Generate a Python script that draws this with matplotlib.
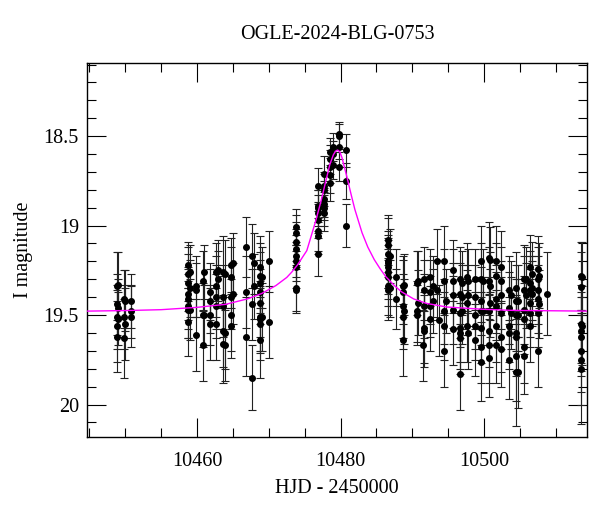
import matplotlib
matplotlib.use("Agg")
import matplotlib.pyplot as plt
import numpy as np
from matplotlib.ticker import MultipleLocator

plt.rcParams['font.family'] = ['Liberation Serif', 'DejaVu Serif']

title = "OGLE-2024-BLG-0753"

# observations: epoch (HJD-2450000), I mag, error
hjd = [
    10448.8, 10448.8, 10448.8, 10448.8, 10448.8,
    10448.95, 10448.95, 10448.95,
    10449.75, 10449.75, 10449.75,
    10449.9, 10449.9,
    10450.8, 10450.8, 10450.8,
    10458.72, 10458.72, 10458.72, 10458.72, 10458.72, 10458.72, 10458.72, 10458.72,
    10459.0, 10459.0, 10459.0,
    10459.8, 10459.8, 10459.8,
    10460.77, 10460.77, 10460.77,
    10460.95, 10460.95,
    10461.8, 10461.8, 10461.8, 10461.8,
    10462.71, 10462.71, 10462.71, 10462.71, 10462.71,
    10462.99, 10462.99,
    10463.64, 10463.64, 10463.64, 10463.64, 10463.64,
    10463.92, 10463.92, 10463.92,
    10464.76, 10464.76, 10464.76, 10464.76, 10464.76,
    10465.03, 10465.03,
    10466.89, 10466.89, 10466.89,
    10467.68, 10467.68, 10467.68,
    10467.9, 10467.9,
    10468.73, 10468.73, 10468.73, 10468.73, 10468.73, 10468.73, 10468.73, 10468.73, 10468.73,
    10469.07, 10469.07,
    10469.99, 10469.99,
    10473.84, 10473.84, 10473.84, 10473.84, 10473.84, 10473.84, 10473.84, 10473.84, 10473.84,
    10476.8, 10476.8, 10476.8, 10476.8, 10476.8, 10476.8, 10476.8, 10476.8,
    10477.68, 10477.68, 10477.68, 10477.68, 10477.68, 10477.68, 10477.68,
    10478.57, 10478.57, 10478.57, 10478.57, 10478.57,
    10478.9, 10478.9, 10478.9,
    10479.72, 10479.72, 10479.72, 10479.72,
    10480.72, 10480.72, 10480.72,
    10486.68, 10486.68, 10486.68, 10486.68, 10486.68, 10486.68, 10486.68, 10486.68, 10486.68, 10486.68,
    10486.91, 10486.91,
    10487.75, 10487.75,
    10488.68, 10488.68, 10488.68, 10488.68, 10488.68,
    10488.86, 10488.86,
    10490.6, 10490.6, 10490.6,
    10490.74, 10490.74,
    10491.46,
    10491.64, 10491.64, 10491.64, 10491.64, 10491.64,
    10492.48, 10492.48, 10492.48, 10492.48,
    10492.85, 10492.85,
    10493.49, 10493.49,
    10493.73,
    10494.47, 10494.47, 10494.47, 10494.47, 10494.47,
    10494.7,
    10495.72, 10495.72, 10495.72, 10495.72, 10495.72,
    10496.65, 10496.65, 10496.65, 10496.65, 10496.65, 10496.65, 10496.65,
    10496.88, 10496.88, 10496.88,
    10497.58, 10497.58, 10497.58,
    10497.8, 10497.8, 10497.8,
    10498.73, 10498.73, 10498.73, 10498.73, 10498.73,
    10499.53, 10499.53, 10499.53, 10499.53, 10499.53, 10499.53, 10499.53,
    10499.8, 10499.8,
    10500.72, 10500.72, 10500.72, 10500.72, 10500.72, 10500.72,
    10500.9, 10500.9, 10500.9,
    10501.66, 10501.66, 10501.66, 10501.66, 10501.66, 10501.66,
    10502.44, 10502.44, 10502.44, 10502.44, 10502.44, 10502.44,
    10503.5, 10503.5, 10503.5, 10503.5, 10503.5,
    10503.7, 10503.7,
    10504.53, 10504.53, 10504.53, 10504.53, 10504.53, 10504.53, 10504.53,
    10504.8, 10504.8, 10504.8,
    10505.55, 10505.55, 10505.55, 10505.55, 10505.55, 10505.55,
    10505.8, 10505.8,
    10506.48, 10506.48, 10506.48, 10506.48, 10506.48, 10506.48,
    10506.75, 10506.75, 10506.75,
    10507.54, 10507.54, 10507.54, 10507.54, 10507.54, 10507.54,
    10507.7, 10507.7,
    10508.79,
    10513.57, 10513.57, 10513.57, 10513.57, 10513.57, 10513.57, 10513.57, 10513.57,
    10513.7, 10513.7,
]
mag = [
    19.34, 19.44, 19.51, 19.56, 19.62,
    19.33, 19.46, 19.52,
    19.41, 19.51, 19.63,
    19.42, 19.55,
    19.42, 19.48, 19.51,
    19.22, 19.27, 19.32, 19.38, 19.41, 19.45, 19.47, 19.54,
    19.26, 19.35, 19.47,
    19.34, 19.36, 19.61,
    19.31, 19.50, 19.67,
    19.26, 19.50,
    19.37, 19.42, 19.50, 19.55,
    19.26, 19.34, 19.40, 19.45, 19.55,
    19.25, 19.30,
    19.26, 19.40, 19.45, 19.59, 19.66,
    19.27, 19.60, 19.67,
    19.22, 19.29, 19.40, 19.50, 19.56,
    19.21, 19.38,
    19.12, 19.37, 19.62,
    19.17, 19.44, 19.85,
    19.21, 19.34,
    19.23, 19.28, 19.32, 19.37, 19.43, 19.51, 19.52, 19.55, 19.64,
    19.29, 19.51,
    19.20, 19.54,
    19.01, 19.04, 19.09, 19.13, 19.17, 19.20, 19.23, 19.35, 19.36,
    18.78, 18.89, 18.90, 18.93, 18.97, 19.03, 19.06, 19.16,
    18.71, 18.78, 18.80, 18.85, 18.88, 18.90, 18.93,
    18.59, 18.63, 18.67, 18.72, 18.76,
    18.56, 18.60, 18.66,
    18.49, 18.50, 18.56, 18.67,
    18.58, 18.75, 19.00,
    19.08, 19.11, 19.16, 19.20, 19.21, 19.23, 19.26, 19.29, 19.34, 19.36,
    19.17, 19.35,
    19.29, 19.41,
    19.34, 19.37, 19.45, 19.51, 19.64,
    19.33, 19.48,
    19.32, 19.48, 19.50,
    19.31, 19.43,
    19.67,
    19.30, 19.36, 19.45, 19.57, 19.59,
    19.29, 19.37, 19.45, 19.52,
    19.34, 19.42,
    19.20, 19.36,
    19.53,
    19.20, 19.31, 19.48, 19.56, 19.70,
    19.42,
    19.25, 19.31, 19.39, 19.47, 19.58,
    19.30, 19.38, 19.49, 19.57, 19.60, 19.63, 19.83,
    19.32, 19.40, 19.48,
    19.29, 19.43, 19.56,
    19.31, 19.39, 19.60,
    19.30, 19.40, 19.50, 19.56, 19.64,
    19.20, 19.30, 19.42, 19.48, 19.57, 19.68, 19.76,
    19.31, 19.48,
    19.18, 19.31, 19.48, 19.59, 19.67, 19.74,
    19.19, 19.34, 19.43,
    19.20, 19.28, 19.41, 19.45, 19.56, 19.67,
    19.23, 19.31, 19.39, 19.49, 19.62, 19.69,
    19.36, 19.46, 19.56, 19.60, 19.75,
    19.39, 19.49,
    19.35, 19.42, 19.50, 19.60, 19.62, 19.73, 19.82,
    19.42, 19.50, 19.82,
    19.30, 19.36, 19.47, 19.52, 19.68, 19.73,
    19.30, 19.39,
    19.23, 19.32, 19.36, 19.43, 19.49, 19.56,
    19.27, 19.35, 19.38,
    19.24, 19.30, 19.36, 19.41, 19.49, 19.70,
    19.28, 19.44,
    19.38,
    19.28, 19.345, 19.55, 19.59, 19.62, 19.70, 19.75, 19.80,
    19.29, 19.56,
]
err = [
    0.19, 0.17, 0.18, 0.20, 0.20,
    0.18, 0.16, 0.15,
    0.16, 0.18, 0.22,
    0.17, 0.20,
    0.15, 0.15, 0.17,
    0.13, 0.15, 0.16, 0.15, 0.17, 0.18, 0.16, 0.19,
    0.15, 0.16, 0.17,
    0.17, 0.15, 0.20,
    0.17, 0.18, 0.20,
    0.15, 0.17,
    0.16, 0.18, 0.17, 0.20,
    0.16, 0.17, 0.18, 0.18, 0.20,
    0.17, 0.16,
    0.20, 0.18, 0.17, 0.20, 0.22,
    0.19, 0.20, 0.20,
    0.15, 0.17, 0.18, 0.20, 0.18,
    0.17, 0.17,
    0.17, 0.20, 0.22,
    0.18, 0.20, 0.18,
    0.17, 0.18,
    0.17, 0.18, 0.17, 0.18, 0.19, 0.20, 0.18, 0.20, 0.21,
    0.17, 0.19,
    0.17, 0.20,
    0.10, 0.10, 0.11, 0.11, 0.12, 0.11, 0.12, 0.13, 0.13,
    0.10, 0.09, 0.10, 0.10, 0.10, 0.11, 0.10, 0.12,
    0.10, 0.08, 0.09, 0.10, 0.09, 0.10, 0.10,
    0.08, 0.08, 0.09, 0.10, 0.10,
    0.08, 0.07, 0.08,
    0.07, 0.07, 0.07, 0.08,
    0.09, 0.10, 0.12,
    0.14, 0.15, 0.13, 0.15, 0.14, 0.15, 0.15, 0.16, 0.16, 0.17,
    0.15, 0.16,
    0.16, 0.17,
    0.17, 0.18, 0.18, 0.18, 0.20,
    0.17, 0.18,
    0.18, 0.17, 0.17,
    0.17, 0.18,
    0.20,
    0.18, 0.17, 0.18, 0.20, 0.20,
    0.16, 0.18, 0.17, 0.18,
    0.17, 0.18,
    0.18, 0.17,
    0.20,
    0.20, 0.18, 0.18, 0.19, 0.20,
    0.18,
    0.17, 0.18, 0.18, 0.19, 0.20,
    0.18, 0.17, 0.19, 0.19, 0.20, 0.20, 0.20,
    0.18, 0.18, 0.18,
    0.19, 0.18, 0.20,
    0.18, 0.17, 0.20,
    0.17, 0.18, 0.19, 0.19, 0.20,
    0.20, 0.20, 0.19, 0.19, 0.20, 0.20, 0.22,
    0.18, 0.19,
    0.20, 0.19, 0.19, 0.20, 0.21, 0.22,
    0.18, 0.19, 0.19,
    0.20, 0.18, 0.19, 0.19, 0.20, 0.21,
    0.20, 0.19, 0.19, 0.20, 0.20, 0.21,
    0.19, 0.20, 0.20, 0.20, 0.22,
    0.19, 0.20,
    0.20, 0.20, 0.20, 0.21, 0.22, 0.25, 0.30,
    0.20, 0.20, 0.20,
    0.19, 0.19, 0.19, 0.20, 0.20, 0.21,
    0.18, 0.18,
    0.18, 0.18, 0.19, 0.19, 0.19, 0.20,
    0.18, 0.18, 0.18,
    0.18, 0.18, 0.19, 0.19, 0.19, 0.20,
    0.18, 0.19,
    0.23,
    0.19, 0.20, 0.22, 0.22, 0.22, 0.23, 0.25, 0.31,
    0.20, 0.22,
]

# model curve
model_t = [10444.7, 10450, 10455, 10460, 10464, 10467, 10469, 10471, 10472.5,
           10473.2, 10474, 10475.3, 10475.9, 10476.5, 10477.3, 10477.9, 10478.5,
           10479.0, 10479.3, 10479.6, 10479.9, 10480.2, 10480.9, 10481.5, 10482.0,
           10483.0, 10483.8, 10484.7, 10485.5, 10486.3, 10487.5, 10488.5, 10490.2,
           10492, 10494.8, 10500, 10504, 10514.4]
model_mag = [19.478, 19.475, 19.47, 19.457, 19.44, 19.41, 19.38, 19.335, 19.29,
             19.26, 19.22, 19.14, 19.06, 18.98, 18.86, 18.76, 18.66,
             18.605, 18.585, 18.578, 18.588, 18.62, 18.73, 18.83, 18.91,
             19.04, 19.12, 19.19, 19.24, 19.285, 19.335, 19.37, 19.41,
             19.435, 19.455, 19.468, 19.474, 19.478]

fig = plt.figure(figsize=(6, 5.12), dpi=100)
ax = fig.add_axes([0.1455, 0.147, 0.8333, 0.7305])

ax.errorbar(hjd, mag, yerr=err, fmt='o', color='black', ecolor='#222222', ms=4.0,
            elinewidth=0.8, capsize=3, capthick=0.8, zorder=2)
ax.plot(model_t, model_mag, color='#ff00ff', lw=1.0, zorder=3)

ax.set_xlim(10444.7, 10514.4)
ax.set_ylim(20.18, 18.09)
ax.xaxis.set_major_locator(MultipleLocator(20))
ax.xaxis.set_minor_locator(MultipleLocator(5))
ax.yaxis.set_major_locator(MultipleLocator(0.5))
ax.yaxis.set_minor_locator(MultipleLocator(0.1))
ax.yaxis.set_major_formatter(matplotlib.ticker.FuncFormatter(lambda v, p: ('%g' % v)))

ax.tick_params(which='both', direction='in', top=True, right=True, width=0.8, colors='black')
ax.tick_params(which='major', length=13.5)
ax.tick_params(which='minor', length=6.8)
ax.tick_params(axis='x', which='major', pad=11, labelsize=14.5)
ax.tick_params(axis='y', which='major', pad=6, labelsize=14.5)
for s in ax.spines.values():
    s.set_linewidth(1.0)

ax.set_title(title, fontsize=14.5, pad=17)
ax.set_xlabel("HJD - 2450000", fontsize=14.5, labelpad=6)
ax.set_ylabel("I magnitude", fontsize=14.5, labelpad=8)

fig.savefig("out.png", dpi=100)
